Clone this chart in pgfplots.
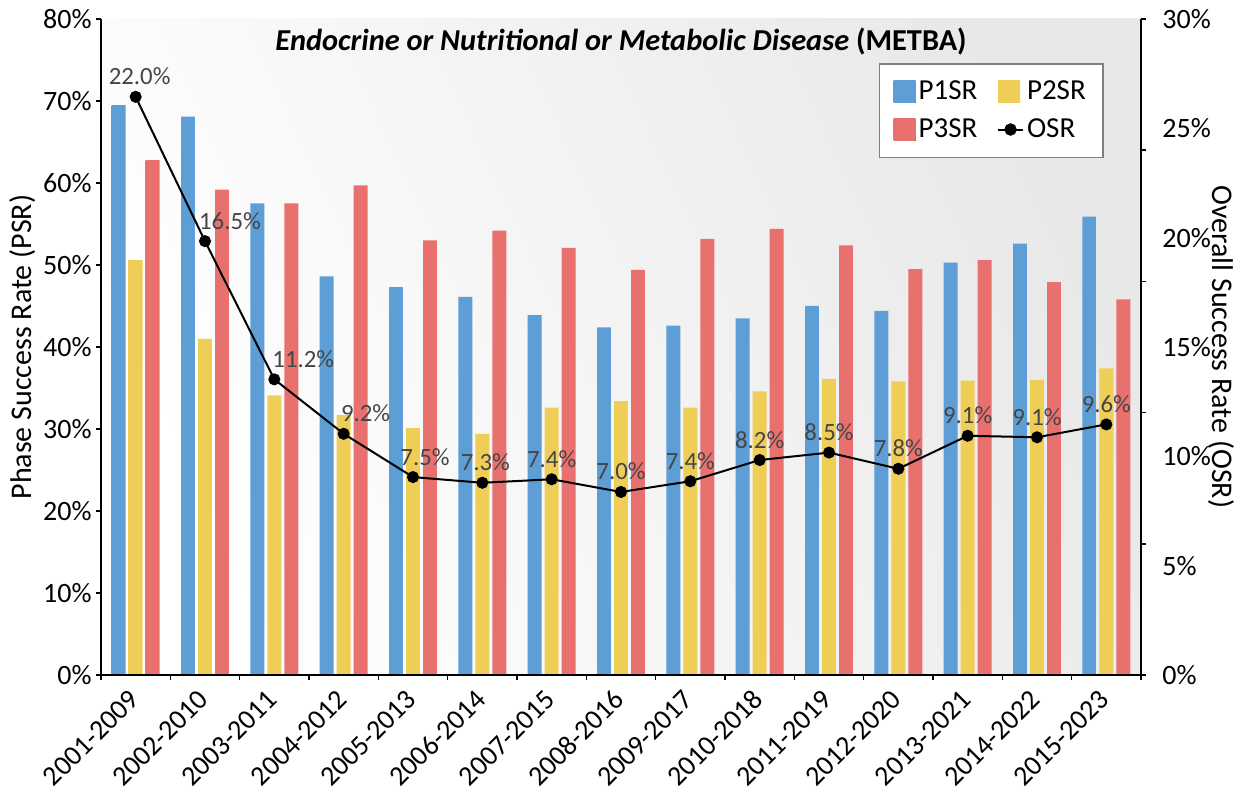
\documentclass[border=0pt]{standalone}
\usepackage{fontspec}
\setmainfont{Carlito}
\usepackage{pgfplots}
\pgfplotsset{compat=1.18}
\usepackage{pgfplotstable}

\definecolor{p1}{HTML}{5E9ED6}
\definecolor{p1l}{HTML}{A6CAEC}
\definecolor{p2}{HTML}{EFCE58}
\definecolor{p2l}{HTML}{FAE8A4}
\definecolor{p3}{HTML}{E8716F}
\definecolor{p3l}{HTML}{F5AAA9}
\definecolor{bgg}{HTML}{E8E8E8}
\definecolor{lblgray}{HTML}{454545}
\definecolor{legbord}{HTML}{7F7F7F}

\pgfplotstableread{
x  p1   p2   p3   osr   lab  dx
0  69.5 50.6 62.8 26.44 22.0 2
1  68.1 41.0 59.2 19.84 16.5 12.5
2  57.5 34.1 57.5 13.52 11.2 14.5
3  48.6 31.7 59.7 11.03 9.2  11
4  47.3 30.1 53.0 9.05  7.5  6
5  46.1 29.4 54.2 8.79  7.3  1.5
6  43.9 32.6 52.1 8.95  7.4  0
7  42.4 33.4 49.4 8.37  7.0  0
8  42.6 32.6 53.2 8.86  7.4  0
9  43.5 34.6 54.4 9.83  8.2  0
10 45.0 36.1 52.4 10.17 8.5  0
11 44.4 35.8 49.5 9.43  7.8  0
12 50.3 35.9 50.6 10.94 9.1  0
13 52.6 36.0 47.9 10.87 9.1  0
14 55.9 37.4 45.8 11.46 9.6  0
}\data

\pgfplotsset{
  barleg/.style={legend image code/.code={\fill[##1] (0pt,-5.5pt) rectangle (11pt,5.5pt);}},
}

\begin{document}
\begin{tikzpicture}
\begin{axis}[
  name=ax,
  scale only axis, width=520pt, height=328pt,
  xmin=-0.5, xmax=14.5, ymin=0, ymax=80,
  axis x line*=bottom, axis y line*=left,
  axis line style={line width=1pt, -},
  ybar, bar width=0.2,
  xtick={0,...,14},
  xticklabels={2001-2009,2002-2010,2003-2011,2004-2012,2005-2013,2006-2014,2007-2015,2008-2016,2009-2017,2010-2018,2011-2019,2012-2020,2013-2021,2014-2022,2015-2023},
  xtick style={draw=none},
  ytick={0,10,...,80},
  yticklabels={0\%,10\%,20\%,30\%,40\%,50\%,60\%,70\%,80\%},
  tick align=outside, major tick length=2.5pt,
  tick style={black, line width=0.8pt},
  ticklabel style={font=\fontsize{14}{16}\selectfont},
  yticklabel style={inner sep=2pt},
  xticklabel style={yshift=-6.5pt, rotate=45, anchor=east, inner sep=1pt},
  ylabel={Phase Success Rate (PSR)},
  ylabel style={font=\fontsize{15}{18}\selectfont},
  ylabel shift=-2pt,
  axis background/.style={top color=bgg, bottom color=white, shading angle=-65},
  legend columns=2, legend cell align=left,
  legend style={at={(1,1)}, anchor=north east, xshift=-18.5pt, yshift=-22pt,
    draw=legbord, line width=0.8pt, fill=white,
    font=\fontsize{14.5}{17}\selectfont,
    nodes={inner sep=1.5pt}, inner xsep=7.2pt, inner ysep=7pt, row sep=5pt,
    /tikz/every even column/.append style={column sep=8.3pt}},
]
\addplot[draw=none, bar shift=-0.245, left color=p1, middle color=p1l, right color=p1, barleg] table[x=x,y=p1]{\data};
\addlegendentry{P1SR}
\addplot[draw=none, bar shift=0, left color=p2, middle color=p2l, right color=p2, barleg] table[x=x,y=p2]{\data};
\addlegendentry{P2SR}
\addplot[draw=none, bar shift=0.245, left color=p3, middle color=p3l, right color=p3, barleg] table[x=x,y=p3]{\data};
\addlegendentry{P3SR}
\addlegendimage{black, line width=1pt, legend image code/.code={\draw[black, line width=1pt] (0pt,0pt) -- (12.5pt,0pt); \fill[black] (6.25pt,0pt) circle (2.6pt);}}
\addlegendentry{OSR}
\node[font=\fontsize{15.2}{18}\selectfont\bfseries] at (rel axis cs:0.5,1) [yshift=-11.5pt] {\textit{Endocrine or Nutritional or Metabolic Disease} (METBA)};
\end{axis}
\begin{axis}[
  scale only axis, width=520pt, height=328pt,
  xmin=-0.5, xmax=14.5, ymin=0, ymax=30,
  axis x line*=bottom, axis y line*=right,
  axis line style={line width=1pt, -},
  xtick={0,...,14}, xticklabels={},
  minor xtick={-0.5,0.5,...,14.5},
  ytick={0,5,...,30},
  yticklabels={0\%,5\%,10\%,15\%,20\%,25\%,30\%},
  minor ytick={0,6,...,30},
  tick align=outside, major tick length=0pt, minor tick length=2.5pt,
  tick style={black, line width=0.8pt},
  ticklabel style={font=\fontsize{14}{16}\selectfont},
  yticklabel style={inner sep=2pt, xshift=8.5pt},
  ylabel={Overall Success Rate (OSR)},
  ylabel style={font=\fontsize{15}{18}\selectfont, rotate=180},
  ylabel shift=-7pt,
  clip=false,
]
\addplot[black, line width=1pt, mark=*, mark size=2.5pt,
  nodes near coords={\pgfplotspointmeta\%},
  point meta=explicit symbolic,
  visualization depends on={\thisrow{dx}\as\dx},
  every node near coord/.append style={font=\fontsize{12.4}{14}\selectfont, text=lblgray, anchor=base, inner sep=0pt, yshift=6pt, xshift=\dx pt},
] table[x=x, y=osr, meta=lab]{\data};
\end{axis}
\pgfresetboundingbox
\useasboundingbox ([xshift=-50.5pt,yshift=-59pt]ax.south west) rectangle ([xshift=51.5pt,yshift=9.5pt]ax.north east);
\end{tikzpicture}
\end{document}
